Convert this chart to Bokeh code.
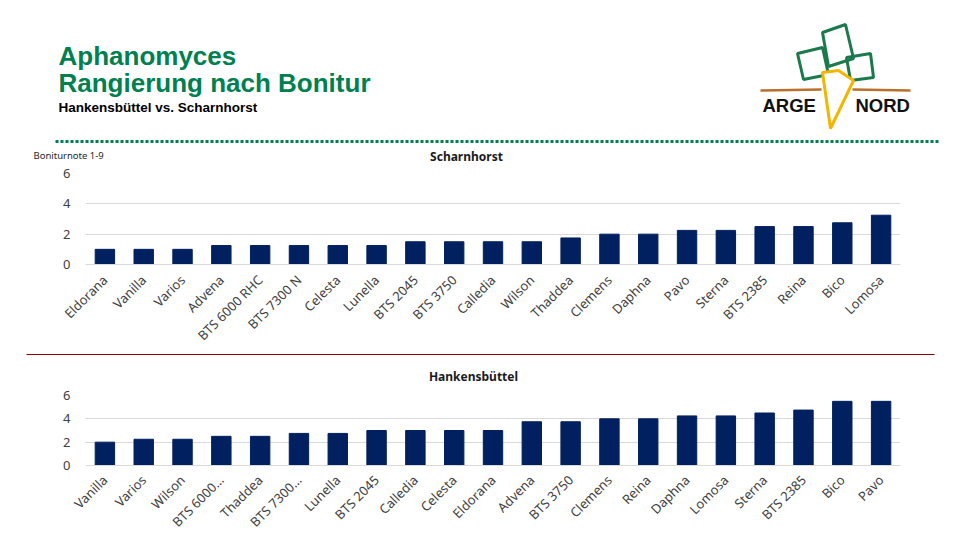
from math import pi
from bokeh.plotting import figure
from bokeh.layouts import column
from bokeh.models import Range1d, FactorRange, FixedTicker, ColumnDataSource
from bokeh.core.properties import value
from bokeh.embed import file_html
from bokeh.resources import INLINE

# ---------------- data ----------------
scharnhorst_cats = ["Eldorana", "Vanilla", "Varios", "Advena", "BTS 6000 RHC", "BTS 7300 N",
                    "Celesta", "Lunella", "BTS 2045", "BTS 3750", "Calledia", "Wilson",
                    "Thaddea", "Clemens", "Daphna", "Pavo", "Sterna", "BTS 2385", "Reina",
                    "Bico", "Lomosa"]
scharnhorst_vals = [1.0, 1.0, 1.0, 1.25, 1.25, 1.25, 1.25, 1.25, 1.5, 1.5, 1.5, 1.5,
                    1.75, 2.0, 2.0, 2.25, 2.25, 2.5, 2.5, 2.75, 3.25]

hankens_cats = ["Vanilla", "Varios", "Wilson", "BTS 6000…", "Thaddea", "BTS 7300…",
                "Lunella", "BTS 2045", "Calledia", "Celesta", "Eldorana", "Advena",
                "BTS 3750", "Clemens", "Reina", "Daphna", "Lomosa", "Sterna", "BTS 2385",
                "Bico", "Pavo"]
hankens_vals = [2.0, 2.25, 2.25, 2.5, 2.5, 2.75, 2.75, 3.0, 3.0, 3.0, 3.0, 3.75,
                3.75, 4.0, 4.0, 4.25, 4.25, 4.5, 4.75, 5.5, 5.5]

y_ticks = [0, 2, 4, 6]

title_1 = "Aphanomyces"
title_2 = "Rangierung nach Bonitur"
subtitle = "Hankensbüttel vs. Scharnhorst"
y_unit = "Boniturnote 1-9"
chart1_title = "Scharnhorst"
chart2_title = "Hankensbüttel"

GREEN = "#008050"
NAVY = "#002060"
GRID = "#d9d9d9"
W = 960
L_B, R_B = 85, 60  # common left / right borders so every frame is the same


def canvas(y0, y1):
    f = figure(width=W, height=y1 - y0, x_range=Range1d(L_B, W - R_B), y_range=Range1d(y1, y0),
               x_axis_type=None, y_axis_type=None, toolbar_location=None,
               output_backend="svg", min_border_left=L_B, min_border_right=R_B,
               min_border_top=0, min_border_bottom=0)
    f.grid.visible = False
    f.outline_line_color = None
    f.background_fill_color = "white"
    f.border_fill_color = "white"
    return f


def deco(r):
    r.level = "overlay"
    return r


def label(fig, x, y, text, size, color, font="Liberation Sans", style="normal", align="left"):
    deco(fig.text(x=[x], y=[y], text=[text], text_font=value(font), text_font_size=size,
                  text_font_style=style, text_color=color, text_baseline="middle",
                  text_align=align))


# ---------------- header ----------------
h = canvas(0, 165)
label(h, 58, 55, title_1, "26px", GREEN, style="bold")
label(h, 58, 82.5, title_2, "26px", GREEN, style="bold")
label(h, 58, 106.5, subtitle, "13.5px", "black", style="bold")
deco(h.line(x=[55, 940], y=[141, 141], line_color=GREEN, line_width=3, line_dash="3 2"))
label(h, 33, 155, y_unit, "9.5px", "#262626", font="Noto Sans")
label(h, 466, 156, chart1_title, "12px", "#1a1a1a", font="Noto Sans", style="bold", align="center")

# logo (decorative)
LEAF = "#1b7a4c"
deco(h.patches(xs=[[797, 822, 828, 803], [822, 845, 853, 828], [846, 870, 873, 850]],
               ys=[[53, 47, 74, 79], [32, 24, 58, 66], [57, 53, 77, 80]],
               fill_alpha=0.0, line_color=LEAF, line_width=3))
deco(h.multi_line(xs=[[760, 821], [852, 910]], ys=[[90, 89], [89, 90]], line_color="#b8702a",
                  line_width=2.5))
deco(h.patch(x=[822, 830, 853, 838], y=[72, 128, 80, 70], fill_color="white", line_color="#f3b600",
             line_width=3))
label(h, 762, 105, "ARGE", "18.5px", "#111111", style="bold")
label(h, 855, 105, "NORD", "18.5px", "#111111", style="bold")


def bar_chart(cats, vals, height, top, bottom, standoff):
    src = ColumnDataSource(dict(cat=cats, val=vals))
    p = figure(width=W, height=height, x_range=FactorRange(*cats), y_range=Range1d(0, 6),
               toolbar_location=None, output_backend="svg",
               min_border_top=top, min_border_bottom=bottom,
               min_border_left=L_B, min_border_right=R_B)
    p.vbar(x="cat", top="val", width=0.5, source=src, color=NAVY)
    p.outline_line_color = None
    p.xgrid.visible = False
    p.ygrid.grid_line_color = GRID
    p.yaxis.ticker = FixedTicker(ticks=y_ticks)
    p.yaxis.axis_line_color = None
    p.yaxis.major_tick_line_color = None
    p.yaxis.major_tick_out = 0
    p.yaxis.major_tick_in = 0
    p.yaxis.minor_tick_line_color = None
    p.yaxis.major_label_standoff = 15
    p.yaxis.major_label_text_font = "Noto Sans"
    p.yaxis.major_label_text_font_size = "13px"
    p.yaxis.major_label_text_color = "#404040"
    p.xaxis.axis_line_color = GRID
    p.xaxis.major_tick_line_color = None
    p.xaxis.major_tick_out = 0
    p.xaxis.major_tick_in = 0
    p.xaxis.minor_tick_line_color = None
    p.xaxis.major_label_orientation = pi / 4
    p.xaxis.major_label_standoff = standoff
    p.xaxis.major_label_text_font = "Noto Sans"
    p.xaxis.major_label_text_font_size = "13px"
    p.xaxis.major_label_text_color = "#404040"
    return p


top_chart = bar_chart(scharnhorst_cats, scharnhorst_vals, 353 - 165, 8, 89, 13)

sep = canvas(353, 385)
deco(sep.line(x=[26, 934], y=[354, 354], line_color="#8b0000", line_width=1.2))
label(sep, 473, 376, chart2_title, "12px", "#1a1a1a", font="Noto Sans", style="bold", align="center")

bottom_chart = bar_chart(hankens_cats, hankens_vals, 540 - 385, 10, 75, 12)

layout = column(h, top_chart, sep, bottom_chart, spacing=0)
open("out.html", "w").write(file_html(layout, INLINE))
